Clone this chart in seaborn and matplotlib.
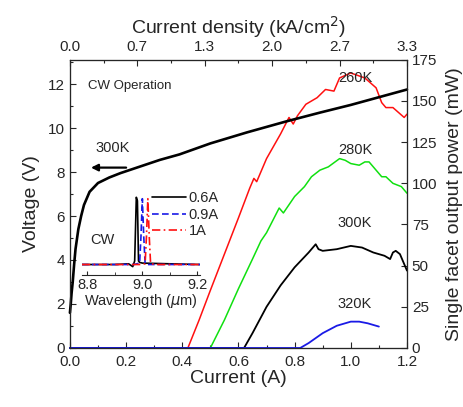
import matplotlib
matplotlib.use("Agg")
import matplotlib.pyplot as plt
import seaborn as sns
from matplotlib.ticker import MultipleLocator

# --- data ---
# voltage vs current (300K, left axis)
cur_v = [0.0, 0.003, 0.006, 0.01, 0.015, 0.02, 0.03, 0.04, 0.05, 0.07, 0.1, 0.14,
         0.18, 0.25, 0.32, 0.39, 0.5, 0.63, 0.77, 0.89, 1.0, 1.1, 1.2]
volt = [1.6, 2.0, 2.5, 3.0, 3.8, 4.5, 5.4, 6.0, 6.5, 7.1, 7.5, 7.75,
        7.95, 8.25, 8.55, 8.8, 9.3, 9.8, 10.3, 10.7, 11.05, 11.4, 11.75]

# output power vs current (right axis)
cur_260 = [0.0, 0.42, 0.46, 0.50, 0.55, 0.60, 0.64, 0.655, 0.665, 0.70, 0.75, 0.78,
           0.795, 0.81, 0.84, 0.86, 0.88, 0.91, 0.94, 0.96, 1.0, 1.05, 1.09, 1.11,
           1.125, 1.15, 1.17, 1.19, 1.2]
pow_260 = [0, 0, 17, 35, 57, 79, 97, 103, 101, 115, 130, 140,
           136, 141, 148, 150, 152, 157, 156, 164, 167, 164, 158, 149,
           146, 146, 143, 140, 142]

cur_280 = [0.0, 0.50, 0.55, 0.60, 0.65, 0.68, 0.70, 0.73, 0.745, 0.76, 0.80, 0.835,
           0.86, 0.89, 0.92, 0.96, 0.98, 1.0, 1.03, 1.05, 1.065, 1.09, 1.11, 1.125,
           1.15, 1.18, 1.2]
pow_280 = [0, 0, 17, 36, 54, 65, 70, 80, 85, 82, 92, 98,
           104, 108, 110, 115, 114, 112, 111, 113, 113, 108, 104, 104,
           100, 98, 94]

cur_300 = [0.0, 0.62, 0.65, 0.70, 0.75, 0.80, 0.85, 0.875, 0.885, 0.90, 0.95, 1.0,
           1.04, 1.08, 1.12, 1.14, 1.15, 1.16, 1.175, 1.185, 1.2]
pow_300 = [0, 0, 9, 25, 38, 49, 58, 63, 60, 59, 60, 62,
           61, 58, 56, 54, 58, 59, 57, 53, 47]

cur_320 = [0.0, 0.82, 0.85, 0.90, 0.95, 1.0, 1.03, 1.06, 1.1]
pow_320 = [0, 0, 3, 9, 13.5, 16, 16, 15, 13]

# top axis: current density labels
density_pos = [0.0, 0.24, 0.48, 0.72, 0.96, 1.2]
density_labels = ["0.0", "0.7", "1.3", "2.0", "2.7", "3.3"]

# inset spectra (normalised)
wl_06 = [8.78, 8.90, 8.95, 8.965, 8.972, 8.978, 8.982, 8.986, 8.99, 9.0, 9.1, 9.21]
sp_06 = [0.0, 0.0, 0.01, -0.03, 0.05, 0.95, 0.9, 0.05, 0.03, 0.02, 0.01, 0.0]
wl_09 = [8.78, 8.90, 8.97, 8.99, 8.995, 9.0, 9.005, 9.01, 9.02, 9.1, 9.21]
sp_09 = [0.0, 0.0, 0.0, 0.02, 0.4, 0.93, 0.4, 0.02, 0.0, 0.0, 0.0]
wl_1 = [8.78, 8.90, 8.99, 9.01, 9.015, 9.02, 9.025, 9.03, 9.05, 9.1, 9.21]
sp_1 = [0.0, 0.0, 0.0, 0.01, 0.4, 0.93, 0.4, 0.01, 0.0, 0.0, 0.0]

sns.set_style("ticks", {"xtick.direction": "in", "ytick.direction": "in"})
plt.rcParams["font.family"] = ["Liberation Sans", "DejaVu Sans"]

fig = plt.figure(figsize=(4.63, 4.07), dpi=100)
ax = fig.add_axes([0.151, 0.145, 0.728, 0.708])
ax2 = ax.twinx()
ax3 = ax.twiny()

RED = "#ff1010"
GREEN = "#10e010"
BLUE = "#1a1ae6"

# power curves
sns.lineplot(x=cur_260, y=pow_260, ax=ax2, color=RED, lw=1.1)
sns.lineplot(x=cur_280, y=pow_280, ax=ax2, color=GREEN, lw=1.1)
sns.lineplot(x=cur_300, y=pow_300, ax=ax2, color="black", lw=1.3)
sns.lineplot(x=cur_320, y=pow_320, ax=ax2, color=BLUE, lw=1.3)

# voltage curve
sns.lineplot(x=cur_v, y=volt, ax=ax2, color="black", lw=1.9,
             transform=ax.transData)

# let the zero baselines show on the bottom spine
for line in ax2.lines:
    line.set_clip_on(False)

ax.set_xlim(0, 1.2)
ax.set_ylim(0, 13.1)
ax2.set_ylim(0, 175)
ax3.set_xlim(0, 1.2)

ax.xaxis.set_major_locator(MultipleLocator(0.2))
ax.xaxis.set_minor_locator(MultipleLocator(0.1))
ax.yaxis.set_major_locator(MultipleLocator(2))
ax.yaxis.set_minor_locator(MultipleLocator(1))
ax2.yaxis.set_major_locator(MultipleLocator(25))
ax3.set_xticks(density_pos)
ax3.set_xticklabels(density_labels)
ax3.xaxis.set_minor_locator(MultipleLocator(0.12))
ax.set_xticks([0, 0.2, 0.4, 0.6, 0.8, 1.0, 1.2])
ax.set_xticklabels(["0.0", "0.2", "0.4", "0.6", "0.8", "1.0", "1.2"])

for a in (ax, ax2, ax3):
    a.tick_params(which="major", direction="in", length=4, width=0.8, labelsize=11)
    a.tick_params(which="minor", direction="in", length=2.5, width=0.8)
    for s in a.spines.values():
        s.set_linewidth(0.8)
ax.tick_params(axis="x", pad=5)
ax3.tick_params(axis="x", pad=4)

ax.set_xlabel("Current (A)", fontsize=14, labelpad=1)
ax.set_ylabel("Voltage (V)", fontsize=14, labelpad=6)
ax2.set_ylabel("Single facet output power (mW)", fontsize=14, labelpad=6)
ax3.set_xlabel("Current density (kA/cm$^2$)", fontsize=14, labelpad=5)

# annotations
ax.text(0.065, 11.9, "CW Operation", fontsize=9.5, va="center")
ax.text(0.09, 9.1, "300K", fontsize=10.5, va="center")
ax.annotate("", xy=(0.065, 8.2), xytext=(0.21, 8.2),
            arrowprops=dict(arrowstyle="-|>", color="black", lw=1.6,
                            mutation_scale=10))
for lbl, p in [("260K", 164), ("280K", 120), ("300K", 76), ("320K", 27)]:
    ax2.text(1.015, p, lbl, fontsize=10.5, ha="center", va="center")

# inset spectrum
axi = fig.add_axes([0.177, 0.324, 0.255, 0.2])
axi.patch.set_alpha(0)
sns.lineplot(x=wl_06, y=sp_06, ax=axi, color="black", lw=1.2, label="0.6A")
sns.lineplot(x=wl_09, y=sp_09, ax=axi, color=BLUE, lw=1.2, ls=(0, (4, 2)),
             label="0.9A")
sns.lineplot(x=wl_1, y=sp_1, ax=axi, color=RED, lw=1.2, ls=(0, (5, 2, 1, 2)),
             label="1A")
axi.set_xlim(8.78, 9.21)
axi.set_ylim(-0.15, 1.0)
for s in ("left", "right", "top"):
    axi.spines[s].set_visible(False)
axi.spines["bottom"].set_linewidth(0.8)
axi.set_yticks([])
axi.set_xticks([8.8, 9.0, 9.2])
axi.set_xticklabels(["8.8", "9.0", "9.2"])
axi.xaxis.set_minor_locator(MultipleLocator(0.1))
axi.tick_params(which="major", direction="in", length=3, labelsize=10.5, pad=2)
axi.tick_params(which="minor", direction="in", length=2)
axi.set_xlabel("Wavelength ($\\mu$m)", fontsize=10.5, labelpad=0)
axi.set_ylabel("")
axi.text(8.855, 0.35, "CW", fontsize=10.5, ha="center", va="center")
axi.legend(loc="upper left", bbox_to_anchor=(0.545, 1.1), frameon=False,
           fontsize=10.5, handlelength=2.3, handletextpad=0.2,
           labelspacing=0.15, borderaxespad=0)

fig.savefig("out.png", dpi=100)
